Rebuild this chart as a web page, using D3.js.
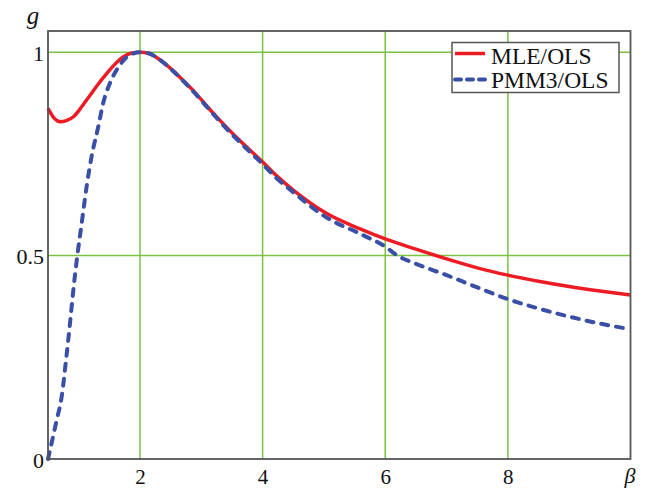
<!DOCTYPE html>
<html>
<head>
<meta charset="utf-8">
<script src="https://cdn.jsdelivr.net/npm/d3@7"></script>
<style>
  html, body { margin: 0; padding: 0; background: #fff; }
  svg { display: block; }
  text { font-family: "Liberation Serif", "Times New Roman", serif; fill: #111; }
</style>
</head>
<body>
<script>
// ---- data ----
const betaMLE = [0.5, 0.6, 0.7, 0.8, 0.92, 1.05, 1.19, 1.32, 1.46, 1.6, 1.73, 1.87, 2.0, 2.15, 2.3, 2.53, 2.72, 2.91, 3.1, 3.3, 3.62, 3.98, 4.23, 4.5, 5.04, 5.6, 6.0, 6.5, 7.0, 7.5, 8.0, 8.5, 9.0, 9.5, 10.0];
const gMLE    = [0.862, 0.838, 0.829, 0.832, 0.842, 0.866, 0.895, 0.922, 0.948, 0.972, 0.989, 0.998, 1.0, 0.997, 0.984, 0.956, 0.928, 0.899, 0.866, 0.833, 0.784, 0.733, 0.696, 0.661, 0.604, 0.565, 0.541, 0.516, 0.492, 0.47, 0.452, 0.437, 0.424, 0.413, 0.403];

const betaPMM = [0.5, 0.642, 0.723, 0.794, 0.859, 0.913, 0.978, 1.05, 1.13, 1.21, 1.32, 1.4, 1.51, 1.67, 1.83, 2.0, 2.15, 2.3, 2.53, 2.72, 2.91, 3.1, 3.3, 3.62, 3.98, 4.23, 4.5, 5.04, 5.6, 6.0, 6.2, 6.5, 7.0, 7.5, 8.0, 8.5, 9.0, 9.5, 10.0];
const gPMM    = [0.0, 0.096, 0.153, 0.243, 0.334, 0.415, 0.5, 0.58, 0.67, 0.743, 0.817, 0.875, 0.924, 0.968, 0.993, 1.0, 0.997, 0.984, 0.955, 0.927, 0.897, 0.864, 0.83, 0.78, 0.728, 0.69, 0.656, 0.594, 0.553, 0.522, 0.5, 0.48, 0.452, 0.422, 0.393, 0.37, 0.35, 0.333, 0.319];

const xTicks = [2, 4, 6, 8];
const yTicks = [0, 0.5, 1];
const yTickLabels = ["0", "0.5", "1"];
const seriesNames = ["MLE/OLS", "PMM3/OLS"];

// ---- layout ----
const W = 650, H = 488;
const L = 48, R = 630.5, T = 31, B = 459;
const red = "#ec1c24", blue = "#3a4fa6", grid = "#7cc242", frame = "#555";

const svg = d3.select("body").append("svg").attr("width", W).attr("height", H);
svg.append("rect").attr("width", W).attr("height", H).attr("fill", "#fff");

const x = d3.scaleLinear().domain([0.5, 10]).range([L, R]);
const y = d3.scaleLinear().domain([0, 1.0522]).range([B, T]);

// grid lines
svg.append("g").selectAll("line").data(xTicks).join("line")
  .attr("x1", d => x(d)).attr("x2", d => x(d)).attr("y1", T).attr("y2", B)
  .attr("stroke", grid).attr("stroke-width", 1.5);
svg.append("g").selectAll("line").data(yTicks.filter(d => d > 0)).join("line")
  .attr("x1", L).attr("x2", R).attr("y1", d => y(d)).attr("y2", d => y(d))
  .attr("stroke", grid).attr("stroke-width", 1.5);

// axes (labels only, via d3 axes)
const xAxis = d3.axisBottom(x).tickValues(xTicks).tickSize(0).tickPadding(10).tickFormat(d3.format("d"));
const gx = svg.append("g").attr("transform", `translate(0,${B})`).call(xAxis);
gx.select(".domain").remove();
gx.selectAll("text").attr("font-size", 21).attr("font-family", "Liberation Serif").attr("fill", "#111");

const yAxis = d3.axisLeft(y).tickValues(yTicks).tickSize(0).tickPadding(4)
  .tickFormat((d, i) => yTickLabels[i]);
const gy = svg.append("g").attr("transform", `translate(${L},0)`).call(yAxis);
gy.select(".domain").remove();
gy.selectAll("text").attr("font-size", 22).attr("font-family", "Liberation Serif").attr("fill", "#111")
  .attr("dy", "0.38em");

// curves
const line = d3.line().x(d => x(d[0])).y(d => y(d[1])).curve(d3.curveMonotoneX);
const dMLE = betaMLE.map((b, i) => [b, gMLE[i]]);
const dPMM = betaPMM.map((b, i) => [b, gPMM[i]]);

svg.append("path").datum(dMLE).attr("d", line)
  .attr("fill", "none").attr("stroke", red).attr("stroke-width", 3.5).attr("stroke-linejoin", "round");
svg.append("path").datum(dPMM).attr("d", line)
  .attr("fill", "none").attr("stroke", blue).attr("stroke-width", 4)
  .attr("stroke-dasharray", "7,8").attr("stroke-linecap", "round");

// frame
svg.append("rect").attr("x", L).attr("y", T).attr("width", R - L).attr("height", B - T)
  .attr("fill", "none").attr("stroke", frame).attr("stroke-width", 1.8);

// axis titles
svg.append("text").attr("x", 33).attr("y", 24).attr("text-anchor", "middle")
  .attr("font-size", 25).attr("font-style", "italic").text("g");
svg.append("text").attr("x", 630).attr("y", 483).attr("text-anchor", "middle")
  .attr("font-size", 22).attr("font-style", "italic").text("β");

// legend
const lg = svg.append("g");
lg.append("rect").attr("x", 452).attr("y", 42.5).attr("width", 167).attr("height", 50)
  .attr("fill", "#fff").attr("stroke", frame).attr("stroke-width", 1.5);
const legendItems = [
  { name: seriesNames[0], color: red, dash: null, y: 53.5, ty: 64 },
  { name: seriesNames[1], color: blue, dash: "6,6", y: 79.5, ty: 88 }
];
legendItems.forEach(it => {
  const l = lg.append("line").attr("x1", 455).attr("x2", 485).attr("y1", it.y).attr("y2", it.y)
    .attr("stroke", it.color).attr("stroke-width", it.dash ? 4 : 3.5);
  if (it.dash) l.attr("stroke-dasharray", it.dash).attr("stroke-linecap", "round");
  lg.append("text").attr("x", 491).attr("y", it.ty).attr("font-size", 23.5).text(it.name);
});
</script>
</body>
</html>
